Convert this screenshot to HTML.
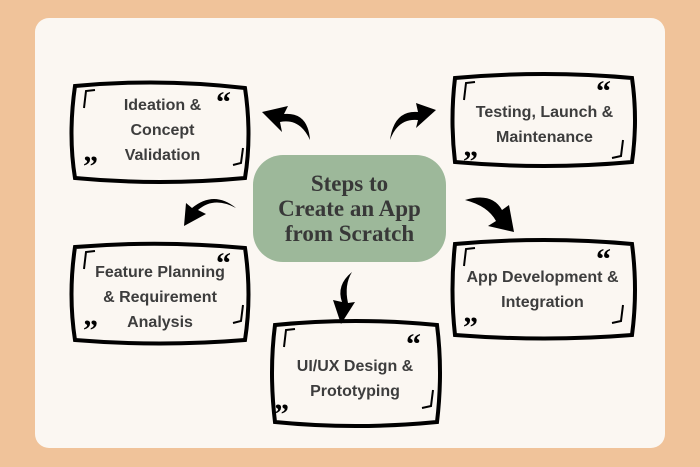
<!DOCTYPE html>
<html><head><style>
body{margin:0;width:700px;height:467px;background:#f0c39a;overflow:hidden;font-family:"Liberation Sans",sans-serif}
.card{position:absolute;left:35px;top:18px;width:630px;height:430px;background:#fbf7f2;border-radius:14px}
.t{position:absolute;text-align:center;color:#3d3d3d;font-size:16px;line-height:25px;font-weight:bold}
.c{position:absolute;left:253px;top:155px;width:193px;height:107px;background:#9db89a;border-radius:30px;text-align:center;font-family:"Liberation Serif",serif;font-weight:bold;font-size:23px;line-height:25px;color:#383838;display:flex;align-items:center;justify-content:center}
</style></head><body>
<div class="card"></div>
<svg width="700" height="467" style="position:absolute;left:0;top:0">
<g fill="none" stroke="#000" stroke-width="4">
<path d="M75 86 Q160 78 245 88 Q252 135 245 178 Q160 186 75 178 Q68 135 75 86Z"/>
<path d="M455 78 Q545 70 632 78 Q638 120 632 162 Q545 170 455 162 Q450 120 455 78Z"/>
<path d="M75 247 Q160 240 245 248 Q252 295 245 340 Q160 347 75 340 Q68 295 75 247Z"/>
<path d="M455 244 Q545 236 632 244 Q638 290 632 335 Q545 342 455 335 Q450 290 455 244Z"/>
<path d="M275 325 Q355 317 437 325 Q443 372 437 422 Q355 430 275 422 Q269 372 275 325Z"/>
</g>
<g fill="none" stroke="#000" stroke-width="2">
<path d="M95 90 L86 91 L84 108"/><path d="M243 148 L241 163 L233 165"/>
<path d="M475 82 L466 83 L464 100"/><path d="M623 140 L621 156 L612 158"/>
<path d="M95 251 L86 252 L84 269"/><path d="M243 305 L241 321 L233 323"/>
<path d="M475 248 L466 249 L464 266"/><path d="M623 305 L621 321 L612 323"/>
<path d="M295 329 L286 330 L284 347"/><path d="M433 390 L431 406 L422 408"/>
</g>
<g fill="#000">
<path d="M310 140 Q300 118 280 122 L282 132 L262 112 L288 106 L284 114 Q308 112 310 140Z"/>
<path d="M390 140 Q394 110 418 112 L416 103 L436 110 L416 128 L418 120 Q398 118 390 140Z"/>
<path d="M236 208 Q214 196 198 210 L206 214 L184 226 L186 203 L192 208 Q214 190 236 208Z"/>
<path d="M465 200 Q492 192 502 210 L509 205 L514 232 L488 226 L496 221 Q488 206 465 200Z"/>
<path d="M352 272 Q336 285 342 302 L333 300 L341 324 L355 302 L348 303 Q344 285 352 272Z"/>
</g>
<g font-family="Liberation Serif,serif" font-weight="bold" font-size="30" fill="#000">
<text x="216" y="112">“</text><text x="83" y="176">”</text>
<text x="596" y="101">“</text><text x="463" y="171">”</text>
<text x="216" y="273">“</text><text x="83" y="340">”</text>
<text x="596" y="269">“</text><text x="463" y="337">”</text>
<text x="406" y="354">“</text><text x="274" y="424">”</text>
</g>
</svg>
<div class="t" style="left:95px;top:93px;width:135px">Ideation &amp;<br>Concept<br>Validation</div>
<div class="t" style="left:462px;top:100px;width:165px">Testing, Launch &amp;<br>Maintenance</div>
<div class="t" style="left:80px;top:260px;width:160px">Feature Planning<br>&amp; Requirement<br>Analysis</div>
<div class="t" style="left:455px;top:265px;width:175px">App Development &amp;<br>Integration</div>
<div class="t" style="left:275px;top:354px;width:160px">UI/UX Design &amp;<br>Prototyping</div>
<div class="c">Steps to<br>Create an App<br>from Scratch</div>
</body></html>
